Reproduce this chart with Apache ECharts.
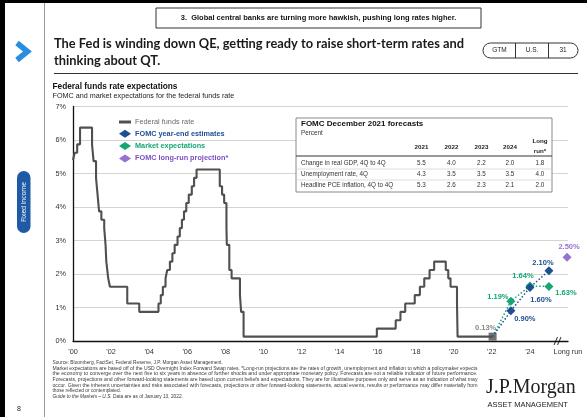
<!DOCTYPE html>
<html><head><meta charset="utf-8">
<script src="https://cdn.jsdelivr.net/npm/echarts@6/dist/echarts.min.js"></script>
<style>html,body{margin:0;padding:0;background:#fff}#c{width:587px;height:417px}</style>
</head><body><div id="c"></div>
<script>
// ---------- DATA ----------
const ffrDates = [2000.0, 2000.09, 2000.22, 2000.37, 2001.0, 2001.08, 2001.21, 2001.29, 2001.37, 2001.49, 2001.64, 2001.71, 2001.75, 2001.85, 2001.94, 2002.85, 2003.48, 2004.49, 2004.61, 2004.72, 2004.86, 2004.95, 2005.09, 2005.22, 2005.34, 2005.49, 2005.61, 2005.72, 2005.83, 2005.95, 2006.08, 2006.24, 2006.36, 2006.49, 2007.71, 2007.83, 2007.94, 2008.06, 2008.08, 2008.21, 2008.33, 2008.77, 2008.83, 2008.96, 2015.96, 2016.95, 2017.2, 2017.45, 2017.95, 2018.22, 2018.45, 2018.73, 2018.97, 2019.58, 2019.71, 2019.83, 2020.17, 2020.2, 2022.04];
const ffrRates = [5.40, 5.62, 5.87, 6.37, 5.87, 5.37, 4.87, 4.37, 3.87, 3.62, 3.37, 2.87, 2.37, 1.87, 1.62, 1.12, 0.87, 1.12, 1.37, 1.62, 1.87, 2.12, 2.37, 2.62, 2.87, 3.12, 3.37, 3.62, 3.87, 4.12, 4.37, 4.62, 4.87, 5.12, 4.62, 4.37, 4.12, 3.37, 2.87, 2.12, 1.87, 1.37, 0.87, 0.13, 0.37, 0.62, 0.87, 1.12, 1.37, 1.62, 1.87, 2.12, 2.37, 2.12, 1.87, 1.62, 1.12, 0.13, 0.13];
const lastDate = 2022.04;
const lastRate = 0.13;
const forecastYears = [2023, 2024, 2025];
const fomcValues = [0.90, 1.60, 2.10];
const marketValues = [1.19, 1.64, 1.63];
const longRunX = 2025.95;
const longRunValue = 2.50;
const xTickLabels = ["'00","'02","'04","'06","'08","'10","'12","'14","'16","'18","'20","'22","'24","Long run"];
const yTickLabels = ["0%","1%","2%","3%","4%","5%","6%","7%"];
const tableCols = ["2021","2022","2023","2024"];
const tableRowNames = ["Change in real GDP, 4Q to 4Q","Unemployment rate, 4Q","Headline PCE inflation, 4Q to 4Q"];
const gdpRow = [5.5, 4.0, 2.2, 2.0, 1.8];
const unempRow = [4.3, 3.5, 3.5, 3.5, 4.0];
const pceRow = [5.3, 2.6, 2.3, 2.1, 2.0];

// ---------- STYLE ----------
const C_FFR = '#505050', C_FOMC = '#1d4f91', C_MKT = '#16a673', C_LR = '#7a4fc6';
const SANS = '"Liberation Sans", Arial, sans-serif';
const chart = echarts.init(document.getElementById('c'), null, {renderer: 'canvas'});

function measure(txt, font) {
  const ctx = document.createElement('canvas').getContext('2d');
  ctx.font = font; return ctx.measureText(txt).width;
}
function fitText(txt, x, y, size, weight, family, width, color, extra) {
  const w = measure(txt, weight + ' ' + size + 'px ' + family);
  const sx = width ? width / w : 1;
  return Object.assign({type:'text', x:x, y:y, scaleX:sx, originX:0, originY:0, style:{text:txt, fontSize:size, fontWeight:weight, fontFamily:family, fill:color||'#333', verticalAlign:'middle'}}, extra||{});
}

const pctLabel = p => p.value[1].toFixed(2) + '%';
const ffrData = ffrDates.map((d, i) => [d, ffrRates[i]]);
const fomcOffsets = [[14, 8], [11, 13], [-6, -8]];
const mktOffsets = [[-13, -4], [-7, -10], [17, 7]];
function projData(vals, offs, color) {
  const arr = [{value: [lastDate, lastRate], symbol: 'none', label: {show: false}}];
  vals.forEach((v, i) => arr.push({value: [forecastYears[i], v], label: {show: true, position: 'inside', offset: offs[i], color: color, fontSize: 7.5, fontWeight: 'bold', fontFamily: SANS, formatter: pctLabel}}));
  return arr;
}

// table graphics
const tbl = [];
const TX = 296, TY = 118, TW = 256, TH = 74;
const colX = [421.5, 451.5, 481.5, 510, 540];
tbl.push({type:'rect', shape:{x:TX, y:TY, width:TW, height:TH}, style:{fill:'#fff', stroke:'#8a8a8a', lineWidth:1}, z:10});
tbl.push({type:'text', x:301, y:123.5, z:11, style:{text:'FOMC December 2021 forecasts', fontSize:8, fontWeight:'bold', fontFamily:SANS, fill:'#111', verticalAlign:'middle'}});
tbl.push({type:'text', x:301, y:133.5, z:11, style:{text:'Percent', fontSize:6.3, fontFamily:SANS, fill:'#333', verticalAlign:'middle'}});
tableCols.forEach((c, i) => tbl.push({type:'text', x:colX[i], y:147, z:11, style:{text:c, fontSize:6.2, fontWeight:'bold', fontFamily:SANS, fill:'#222', align:'center', verticalAlign:'middle'}}));
tbl.push({type:'text', x:colX[4], y:141.5, z:11, style:{text:'Long', fontSize:6.2, fontWeight:'bold', fontFamily:SANS, fill:'#222', align:'center', verticalAlign:'middle'}});
tbl.push({type:'text', x:colX[4], y:151.5, z:11, style:{text:'run*', fontSize:6.2, fontWeight:'bold', fontFamily:SANS, fill:'#222', align:'center', verticalAlign:'middle'}});
tbl.push({type:'line', shape:{x1:TX, y1:156, x2:TX+TW, y2:156}, style:{stroke:'#333', lineWidth:1}, z:11});
tbl.push({type:'line', shape:{x1:TX, y1:169, x2:TX+TW, y2:169}, style:{stroke:'#c8c8c8', lineWidth:0.6}, z:11});
tbl.push({type:'line', shape:{x1:TX, y1:180, x2:TX+TW, y2:180}, style:{stroke:'#c8c8c8', lineWidth:0.6}, z:11});
[gdpRow, unempRow, pceRow].forEach((row, r) => {
  const y = 163.5 + r * 11;
  tbl.push({type:'text', x:301, y:y, z:11, style:{text:tableRowNames[r], fontSize:6.3, fontFamily:SANS, fill:'#333', verticalAlign:'middle'}});
  row.forEach((v, i) => tbl.push({type:'text', x:colX[i], y:y, z:11, style:{text:v.toFixed(1), fontSize:6.3, fontFamily:SANS, fill:'#333', align:'center', verticalAlign:'middle'}}));
});

// footnotes
const FN = 4.8;
const fnLines = [
  ['Source: Bloomberg, FactSet, Federal Reserve, J.P. Morgan Asset Management.', false, 0],
  ['Market expectations are based off of the USD Overnight Index Forward Swap rates. *Long-run projections are the rates of growth, unemployment and inflation to which a policymaker expects', true, 0],
  ['the economy to converge over the next five to six years in absence of further shocks and under appropriate monetary policy. Forecasts are not a reliable indicator of future performance.', true, 0],
  ['Forecasts, projections and other forward-looking statements are based upon current beliefs and expectations. They are for illustrative purposes only and serve as an indication of what may', true, 0.6],
  ['occur. Given the inherent uncertainties and risks associated with forecasts, projections or other forward-looking statements, actual events, results or performance may differ materially from', true, 0.6],
  ['those reflected or contemplated.', false, 0.6]
];
const fnG = [];
fnLines.forEach((l, i) => {
  fnG.push(fitText(l[0], 52.5, 363 + i * 5.5 + l[2], FN, 'normal', SANS, l[1] ? 425 : null, '#3a3a3a'));
});
fnG.push({type:'text', x:52.5, y:363 + 6 * 5.5 + 0.6, style:{text:'{i|Guide to the Markets – U.S.} Data are as of January 13, 2022.', fontSize:FN, fontFamily:SANS, fill:'#3a3a3a', verticalAlign:'middle', rich:{i:{fontStyle:'italic', fontSize:FN, fontFamily:SANS, fill:'#3a3a3a'}}}});

const titleFont = 'Lato';
const t1 = 'The Fed is winding down QE, getting ready to raise short-term rates and';
const t2 = 'thinking about QT.';
const tScale = 410 / measure(t1, 'bold 14px Lato');
const graphics = [
  {type:'rect', shape:{x:0, y:0, width:587, height:3}, style:{fill:'#000'}},
  {type:'rect', shape:{x:0, y:0, width:5, height:417}, style:{fill:'#000'}},
  {type:'line', shape:{x1:44.5, y1:3, x2:44.5, y2:417}, style:{stroke:'#9a9a9a', lineWidth:1}},
  {type:'polyline', shape:{points:[[17,43],[27.5,51.5],[17,60]]}, style:{stroke:'#2a8ee0', lineWidth:5.5, fill:null, lineJoin:'miter', lineCap:'butt'}},
  {type:'rect', shape:{x:17, y:171, width:13.5, height:62, r:6.75}, style:{fill:'#1f5aa6'}},
  {type:'text', x:23.75, y:202, rotation:Math.PI/2, style:{text:'Fixed income', fontSize:6.5, fontFamily:'"Open Sans", sans-serif', fill:'#fff', align:'center', verticalAlign:'middle'}},
  {type:'text', x:17, y:409, style:{text:'8', fontSize:7, fontFamily:SANS, fill:'#222', verticalAlign:'middle'}},
  {type:'rect', shape:{x:156, y:8, width:325, height:20}, style:{fill:null, stroke:'#333', lineWidth:1}},
  {type:'text', x:318.5, y:18, style:{text:'3.  Global central banks are turning more hawkish, pushing long rates higher.', fontSize:7.5, fontWeight:'bold', fontFamily:SANS, fill:'#111', align:'center', verticalAlign:'middle'}},
  {type:'text', x:54, y:43, scaleX:tScale, originX:0, originY:0, style:{text:t1, fontSize:14, fontWeight:'bold', fontFamily:titleFont, fill:'#1a1a1a', verticalAlign:'middle'}},
  {type:'text', x:54, y:60, scaleX:tScale, originX:0, originY:0, style:{text:t2, fontSize:14, fontWeight:'bold', fontFamily:titleFont, fill:'#1a1a1a', verticalAlign:'middle'}},
  {type:'rect', shape:{x:483, y:43, width:95, height:15, r:7.5}, style:{fill:null, stroke:'#333', lineWidth:1}},
  {type:'line', shape:{x1:515.5, y1:43, x2:515.5, y2:58}, style:{stroke:'#333', lineWidth:1}},
  {type:'line', shape:{x1:548.5, y1:43, x2:548.5, y2:58}, style:{stroke:'#333', lineWidth:1}},
  {type:'text', x:499.5, y:50.5, style:{text:'GTM', fontSize:6.5, fontFamily:SANS, fill:'#222', align:'center', verticalAlign:'middle'}},
  {type:'text', x:532, y:50.5, style:{text:'U.S.', fontSize:6.5, fontFamily:SANS, fill:'#222', align:'center', verticalAlign:'middle'}},
  {type:'text', x:563, y:50.5, style:{text:'31', fontSize:6.5, fontFamily:SANS, fill:'#222', align:'center', verticalAlign:'middle'}},
  {type:'line', shape:{x1:54, y1:73.5, x2:578, y2:73.5}, style:{stroke:'#333', lineWidth:1}},
  {type:'text', x:52.5, y:86.5, style:{text:'Federal funds rate expectations', fontSize:8.3, fontWeight:'bold', fontFamily:SANS, fill:'#111', verticalAlign:'middle'}},
  {type:'text', x:52.5, y:96, style:{text:'FOMC and market expectations for the federal funds rate', fontSize:7.2, fontFamily:SANS, fill:'#222', verticalAlign:'middle'}},
  {type:'text', x:486, y:387.5, style:{text:'J.P.Morgan', fontSize:20, fontFamily:'"Liberation Serif", "DejaVu Serif", serif', fill:'#222', verticalAlign:'middle'}},
  {type:'text', x:487.5, y:405, style:{text:'ASSET MANAGEMENT', fontSize:7.5, fontFamily:SANS, fill:'#222', verticalAlign:'middle'}}
].concat(tbl, fnG);

const option = {
  animation: false,
  backgroundColor: '#fff',
  grid: {left: 73, right: 19, top: 106.5, bottom: 76, containLabel: false},
  xAxis: {
    type: 'value', min: 2000, max: 2026, interval: 2,
    axisLine: {lineStyle: {color: '#111', width: 1.3}},
    axisTick: {show: false}, splitLine: {show: false},
    axisLabel: {showMaxLabel: true, showMinLabel: true, color: '#333', fontSize: 7.3, fontFamily: SANS, margin: 7,
      formatter: v => xTickLabels[Math.round((v - 2000) / 2)] || ''}
  },
  yAxis: {
    type: 'value', min: 0, max: 7, interval: 1,
    axisLine: {show: true, lineStyle: {color: '#111', width: 1.3}},
    axisTick: {show: false},
    splitLine: {lineStyle: {color: '#d4d4d4', width: 1}},
    axisLabel: {color: '#333', fontSize: 7.3, fontFamily: SANS, margin: 7, formatter: v => yTickLabels[Math.round(v)]}
  },
  legend: {
    orient: 'vertical', left: 114, top: 113.5, itemWidth: 12, itemHeight: 8, itemGap: 4.3,
    textStyle: {fontSize: 7.3, fontFamily: SANS, padding: [0, 0, 0, -1]},
    data: [
      {name: 'Federal funds rate', icon: 'path://M0,0 L12,0 L12,3 L0,3 Z', itemStyle: {color: C_FFR}, textStyle: {color: '#6a6a6a'}},
      {name: 'FOMC year-end estimates', icon: 'diamond', textStyle: {color: C_FOMC, fontWeight: 'bold'}},
      {name: 'Market expectations', icon: 'diamond', textStyle: {color: C_MKT, fontWeight: 'bold'}},
      {name: 'FOMC long-run projection*', icon: 'diamond', textStyle: {color: C_LR, fontWeight: 'bold'}}
    ]
  },
  series: [
    {name: 'Federal funds rate', type: 'line', step: 'end', symbol: 'none', data: ffrData,
      lineStyle: {color: C_FFR, width: 2.1}, itemStyle: {color: C_FFR}, z: 3},
    {name: 'last', type: 'scatter', symbol: 'rect', symbolSize: 8, itemStyle: {color: C_FFR},
      data: [[lastDate, lastRate]], z: 4,
      label: {show: true, position: 'inside', offset: [-7, -9], color: '#6a6a6a', fontSize: 7.5, fontWeight: 'bold', fontFamily: SANS, formatter: pctLabel}},
    {name: 'Market expectations', type: 'line', symbol: 'diamond', symbolSize: 9,
      lineStyle: {color: C_MKT, width: 1.5, type: [1.5, 2]}, itemStyle: {color: C_MKT},
      data: projData(marketValues, mktOffsets, C_MKT), z: 5},
    {name: 'FOMC year-end estimates', type: 'line', symbol: 'diamond', symbolSize: 9,
      lineStyle: {color: C_FOMC, width: 1.5, type: [1.5, 2]}, itemStyle: {color: C_FOMC},
      data: projData(fomcValues, fomcOffsets, C_FOMC), z: 6},
    {name: 'FOMC long-run projection*', type: 'scatter', symbol: 'diamond', symbolSize: 9,
      itemStyle: {color: C_LR}, data: [[longRunX, longRunValue]], z: 5,
      label: {show: true, position: 'inside', offset: [2, -10], color: C_LR, fontSize: 7.5, fontWeight: 'bold', fontFamily: SANS, formatter: pctLabel}},
    {name: 'break', type: 'scatter', symbol: 'path://M0,10 L4,0 M4,10 L8,0', symbolSize: [7, 8], silent: true,
      itemStyle: {color: 'none', borderColor: '#111', borderWidth: 1.1}, data: [[2025.45, 0]], z: 8}
  ],
  graphic: {elements: graphics}
};
chart.setOption(option);
</script>
</body></html>
